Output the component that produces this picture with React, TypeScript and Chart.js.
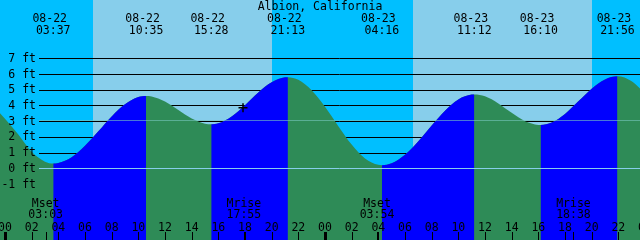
import React, { useEffect, useRef } from "react";
import { Chart, registerables } from "chart.js";

Chart.register(...registerables);

// ---- data (hours counted from 08-22 00:00) ----
const title = "Albion, California";
const tideHours = [
  -0.375, 0, 1, 2, 3, 3.617, 4, 5, 6, 7, 8, 9, 10, 10.583, 11, 12, 13, 14, 15, 15.467,
  16, 17, 18, 19, 20, 21, 21.217, 22, 23, 24, 25, 26, 27, 28, 28.267, 29, 30, 31, 32, 33,
  34, 35, 35.2, 36, 37, 38, 39, 40, 40.167, 41, 42, 43, 44, 45, 45.933, 47, 47.625,
];
const tideFeet = [
  3.5, 3.15, 2.15, 1.05, 0.42, 0.3, 0.33, 0.7, 1.43, 2.35, 3.3, 4.07, 4.53, 4.6, 4.57, 4.25, 3.71, 3.17, 2.84, 2.8,
  2.86, 3.3, 4.02, 4.83, 5.48, 5.79, 5.8, 5.63, 4.96, 3.91, 2.68, 1.51, 0.63, 0.22, 0.2, 0.32, 0.86, 1.72, 2.72, 3.67,
  4.38, 4.69, 4.7, 4.58, 4.13, 3.53, 3.0, 2.76, 2.75, 2.91, 3.46, 4.26, 5.07, 5.65, 5.85, 5.54, 5.08,
];
const extremeHours = [3.617, 10.583, 15.467, 21.217, 28.267, 35.2, 40.167, 45.933];
const extremeDates = ["08-22", "08-22", "08-22", "08-22", "08-23", "08-23", "08-23", "08-23"];
const extremeTimes = ["03:37", "10:35", "15:28", "21:13", "04:16", "11:12", "16:10", "21:56"];
const moonHours = [3.05, 17.917, 27.9, 42.633];
const moonNames = ["Mset", "Mrise", "Mset", "Mrise"];
const moonTimes = ["03:03", "17:55", "03:54", "18:38"];
const sunriseHours = [6.6, 30.583];
const sunsetHours = [20.0, 44.0];
const depthFeet = [7, 6, 5, 4, 3, 2, 1, 0, -1];
const depthLabels = ["7 ft", "6 ft", "5 ft", "4 ft", "3 ft", "2 ft", "1 ft", "0 ft", "-1 ft"];
const hourTicks = [0, 2, 4, 6, 8, 10, 12, 14, 16, 18, 20, 22, 24, 26, 28, 30, 32, 34, 36, 38, 40, 42, 44, 46, 48];
const hourLabels = ["00", "02", "04", "06", "08", "10", "12", "14", "16", "18", "20", "22", "00", "02", "04", "06", "08", "10", "12", "14", "16", "18", "20", "22", "00"];
const markerHours = [17.85];
const markerFeet = [3.85];
const mslFeet = 3.05;

const X_MIN = -0.375;
const X_MAX = 47.625;
const Y_MIN = -4.563;
const Y_MAX = 10.71;

const NIGHT = "#00bfff";
const DAY = "#87ceeb";
const RISE = "#0000ff";
const FALL = "#2e8b57";
const FONT = "11.5px 'DejaVu Sans Mono', monospace";

const decorPlugin = {
  id: "tideDecor",
  beforeDatasetsDraw(chart: any) {
    const { ctx, scales } = chart;
    const xs = scales.x;
    const ys = scales.y;
    ctx.save();
    ctx.fillStyle = NIGHT;
    ctx.fillRect(0, 0, chart.width, chart.height);
    ctx.fillStyle = DAY;
    for (let i = 0; i < sunriseHours.length; i++) {
      const a = Math.round(xs.getPixelForValue(sunriseHours[i]));
      const b = Math.round(xs.getPixelForValue(sunsetHours[i]));
      ctx.fillRect(a, 0, b - a, chart.height);
    }
    ctx.strokeStyle = "#000";
    ctx.lineWidth = 1;
    depthFeet.forEach((f) => {
      if (f === 0) return;
      const y = Math.round(ys.getPixelForValue(f)) + 0.5;
      ctx.beginPath();
      ctx.moveTo(39, y);
      ctx.lineTo(chart.width, y);
      ctx.stroke();
    });
    ctx.restore();
  },
  afterDatasetsDraw(chart: any) {
    const { ctx, scales } = chart;
    const xs = scales.x;
    const ys = scales.y;
    ctx.save();
    // datum line
    const y0 = Math.round(ys.getPixelForValue(0)) + 0.5;
    ctx.strokeStyle = DAY;
    ctx.lineWidth = 1;
    ctx.beginPath();
    ctx.moveTo(39, y0);
    ctx.lineTo(chart.width, y0);
    ctx.stroke();
    // mean sea level line
    const ym = Math.round(ys.getPixelForValue(mslFeet)) + 0.5;
    ctx.strokeStyle = "rgba(120,200,190,0.6)";
    ctx.beginPath();
    ctx.moveTo(39, ym);
    ctx.lineTo(chart.width, ym);
    ctx.stroke();

    ctx.fillStyle = "#000";
    ctx.font = FONT;
    ctx.textBaseline = "alphabetic";
    // depth labels
    ctx.textAlign = "right";
    depthFeet.forEach((f, i) => {
      const y = ys.getPixelForValue(f);
      ctx.fillText(depthLabels[i], 36, y + 3.5);
    });
    // title
    ctx.textAlign = "center";
    ctx.fillText(title, 320, 10);
    // tide extremes
    extremeHours.forEach((h, i) => {
      const x = xs.getPixelForValue(h);
      ctx.fillText(extremeDates[i], x - 3.5, 22);
      ctx.fillText(extremeTimes[i], x, 33.5);
    });
    // moon events
    moonHours.forEach((h, i) => {
      const x = xs.getPixelForValue(h);
      ctx.fillText(moonNames[i], x, 206.5);
      ctx.fillText(moonTimes[i], x, 218);
    });
    // hour labels and ticks
    hourTicks.forEach((h, i) => {
      const x = xs.getPixelForValue(h);
      ctx.fillText(hourLabels[i], x, 230.5);
      const bold = h % 24 === 0;
      ctx.fillRect(Math.round(x) - (bold ? 1 : 0), 232, bold ? 3 : 1, 8);
    });
    moonHours.forEach((h) => {
      const x = xs.getPixelForValue(h);
      ctx.fillRect(Math.round(x), 232, 1, 8);
    });
    ctx.restore();
  },
};

export default function App() {
  const ref = useRef<HTMLCanvasElement | null>(null);
  useEffect(() => {
    if (!ref.current) return;
    const tidePoints = tideHours.map((h, i) => ({ x: h, y: tideFeet[i] }));
    const chart = new Chart(ref.current, {
      type: "line",
      data: {
        datasets: [
          {
            type: "line",
            data: markerHours.map((h, i) => ({ x: h, y: markerFeet[i] })),
            showLine: false,
            pointStyle: "cross",
            pointRadius: 4.5,
            borderColor: "#000",
            borderWidth: 1.5,
            order: 0,
          } as any,
          {
            // rising (flood) parts drawn over the ebb layer
            type: "line",
            data: tidePoints,
            fill: "start",
            backgroundColor: RISE,
            borderColor: "rgba(0,0,0,0)",
            borderWidth: 0,
            pointRadius: 0,
            cubicInterpolationMode: "monotone",
            segment: {
              backgroundColor: (c: any) =>
                tideFeet[c.p1DataIndex] >= tideFeet[c.p0DataIndex] ? RISE : "rgba(0,0,0,0)",
            },
            order: 1,
          } as any,
          {
            // whole curve in ebb colour underneath
            type: "line",
            data: tidePoints,
            fill: "start",
            backgroundColor: FALL,
            borderColor: "rgba(0,0,0,0)",
            borderWidth: 0,
            pointRadius: 0,
            cubicInterpolationMode: "monotone",
            order: 2,
          } as any,
        ],
      },
      options: {
        animation: false,
        responsive: false,
        devicePixelRatio: 1,
        layout: { padding: 0, autoPadding: false },
        events: [],
        scales: {
          x: { type: "linear", min: X_MIN, max: X_MAX, display: false },
          y: { type: "linear", min: Y_MIN, max: Y_MAX, display: false },
        },
        plugins: { legend: { display: false }, tooltip: { enabled: false } },
      },
      plugins: [decorPlugin],
    });
    return () => chart.destroy();
  }, []);
  return (
    <div style={{ position: "fixed", left: 0, top: 0, width: 640, height: 240 }}>
      <canvas ref={ref} width={640} height={240} style={{ display: "block", width: 640, height: 240 }} />
    </div>
  );
}
